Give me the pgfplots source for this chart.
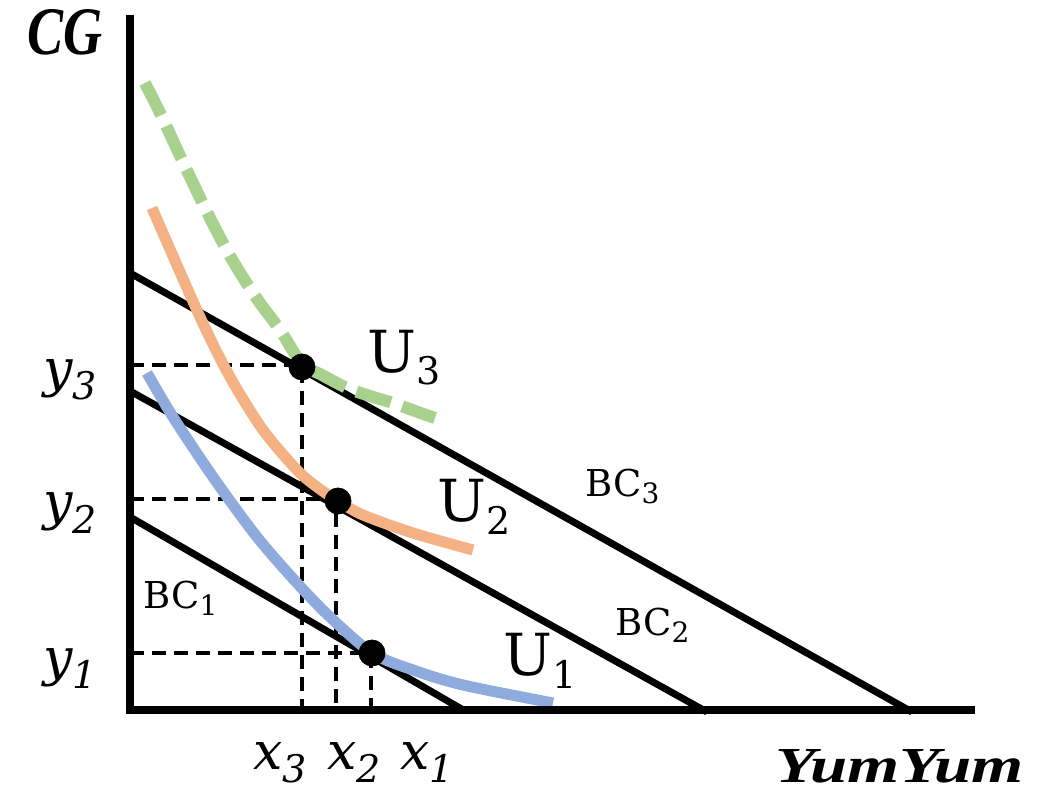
\documentclass[border=0pt]{standalone}
\usepackage{fontspec}
\setmainfont{DejaVu Serif}
\newfontfamily\lserif{Liberation Serif}
\usepackage{graphicx}
\usepackage{pgfplots}
\pgfplotsset{compat=1.18}
\definecolor{ugreen}{HTML}{A9D18E}
\definecolor{uorange}{HTML}{F4B183}
\definecolor{ublue}{HTML}{8FAADC}
\newcommand\fs[1]{\fontsize{#1}{#1}\selectfont}
\begin{document}
\begin{tikzpicture}
\begin{axis}[at={(0,0)}, anchor=south west, scale only axis,
  width=519pt, height=396.5pt,
  xmin=0, xmax=1038, ymin=0, ymax=793,
  hide axis, clip=false]
% guide lines
\addplot[black, line width=1.9pt, dash pattern=on 7pt off 4pt] coordinates {(130,428) (302,428) (302,83)};
\addplot[black, line width=1.9pt, dash pattern=on 7pt off 4pt] coordinates {(130,294) (336,294) (336,83)};
\addplot[black, line width=1.9pt, dash pattern=on 7pt off 4pt] coordinates {(130,140) (371,140) (371,83)};
% budget constraints
\addplot[black, line width=3.5pt] coordinates {(130,276) (465,82)};
\addplot[black, line width=3.5pt] coordinates {(130,402) (707,81)};
\addplot[black, line width=3.5pt] coordinates {(130,520) (912,81)};
% indifference curves
\addplot[ugreen, line width=6pt, smooth, dash pattern=on 18pt off 6pt] coordinates {
(145,710) (162,676) (182,633) (207,581) (230,537) (255,497) (280,463) (302,429) (320,419) (347,405) (370,397) (393,390) (415,382) (435,375)};
\addplot[uorange, line width=5.5pt, smooth] coordinates {
(152,585) (200,476) (230,416) (263,363) (297,323) (317,306) (338,292) (363,278) (413,260) (473,243)};
\addplot[ublue, line width=5.5pt, smooth] coordinates {
(147,420) (173,376) (213,316) (257,256) (297,210) (330,176) (372,140) (413,123) (463,108) (553,90)};
% tangency points
\addplot[only marks, mark=*, mark size=6.5pt, black] coordinates {(302,426) (338,292) (372,140)};
% axes
\addplot[black, line width=4pt] coordinates {(130,778) (130,79)};
\addplot[black, line width=4pt] coordinates {(126,83) (975,83)};
% labels
\node[anchor=base west, inner sep=0] at (axis cs:27,738) {\resizebox{37.5pt}{22.5pt}{\lserif\bfseries\itshape CG}};
\node[anchor=base west, inner sep=0] at (axis cs:775,11) {\resizebox{124pt}{16.5pt}{\lserif\bfseries\itshape YumYum}};
\node[anchor=base west, inner sep=0] at (axis cs:43,406) {\fs{26}\itshape y\raisebox{-6.5pt}{\fs{19}3}};
\node[anchor=base west, inner sep=0] at (axis cs:43,273) {\fs{26}\itshape y\raisebox{-6.5pt}{\fs{19}2}};
\node[anchor=base west, inner sep=0] at (axis cs:43,118) {\fs{26}\itshape y\raisebox{-6.5pt}{\fs{19}1}};
\node[anchor=base west, inner sep=0] at (axis cs:253,24) {\fs{26}\itshape x\raisebox{-6.5pt}{\fs{19}3}};
\node[anchor=base west, inner sep=0] at (axis cs:327,24) {\fs{26}\itshape x\raisebox{-6.5pt}{\fs{19}2}};
\node[anchor=base west, inner sep=0] at (axis cs:400,24) {\fs{26}\itshape x\raisebox{-6.5pt}{\fs{19}1}};
\node[anchor=base west, inner sep=0] at (axis cs:367,420) {\fs{29}U\raisebox{-6pt}{\fs{19}3}};
\node[anchor=base west, inner sep=0] at (axis cs:437,271) {\fs{29}U\raisebox{-6.5pt}{\fs{19}2}};
\node[anchor=base west, inner sep=0] at (axis cs:503,118) {\fs{29}U\raisebox{-6.5pt}{\fs{19}1}};
\node[anchor=base west, inner sep=0] at (axis cs:585,296) {\fs{18.5}BC\raisebox{-3.5pt}{\fs{14}3}};
\node[anchor=base west, inner sep=0] at (axis cs:615,158) {\fs{18.5}BC\raisebox{-3.5pt}{\fs{14}2}};
\node[anchor=base west, inner sep=0] at (axis cs:143,185) {\fs{18.5}BC\raisebox{-3.5pt}{\fs{14}1}};
\end{axis}
\pgfresetboundingbox
\path (0,0) rectangle (519pt,396.5pt);
\end{tikzpicture}
\end{document}
